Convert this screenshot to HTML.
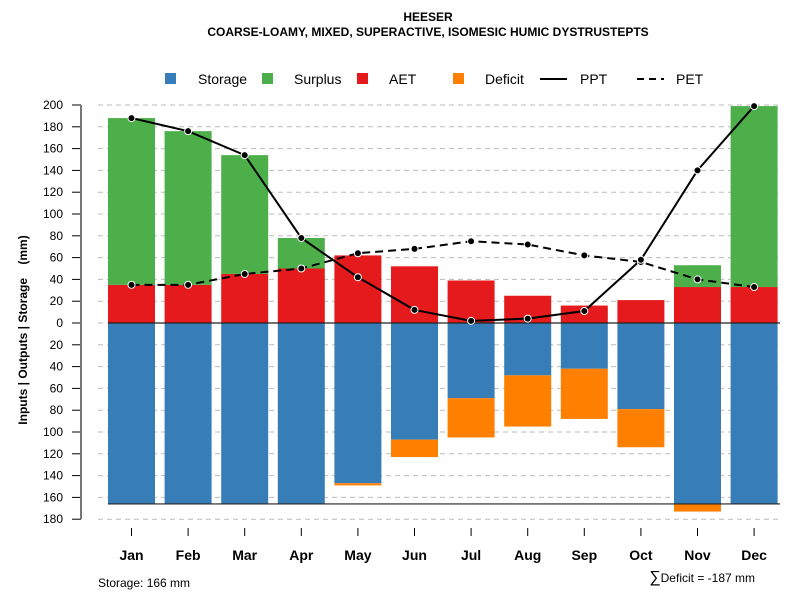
<!DOCTYPE html>
<html><head><meta charset="utf-8"><style>
body{margin:0;background:#fff;font-family:"Liberation Sans",sans-serif}
</style></head><body>
<svg id="c" width="800" height="600" xmlns="http://www.w3.org/2000/svg" font-family="Liberation Sans, sans-serif">
<text x="428" y="21" text-anchor="middle" font-size="12" font-weight="bold">HEESER</text>
<text x="428" y="36" text-anchor="middle" font-size="12" font-weight="bold">COARSE-LOAMY, MIXED, SUPERACTIVE, ISOMESIC HUMIC DYSTRUSTEPTS</text>
<g font-size="14">
<rect x="165" y="73" width="11" height="11" fill="#377EB8"/><text x="198" y="84">Storage</text>
<rect x="262" y="73" width="11" height="11" fill="#4DAF4A"/><text x="294" y="84">Surplus</text>
<rect x="357" y="73" width="11" height="11" fill="#E41A1C"/><text x="389" y="84">AET</text>
<rect x="453" y="73" width="11" height="11" fill="#FF7F00"/><text x="485" y="84">Deficit</text>
<line x1="540" y1="79" x2="567" y2="79" stroke="#000" stroke-width="2"/><text x="580" y="84">PPT</text>
<line x1="637" y1="79" x2="664" y2="79" stroke="#000" stroke-width="2" stroke-dasharray="7,5"/><text x="676" y="84">PET</text>
</g>
<text transform="translate(27,330) rotate(-90)" text-anchor="middle" font-size="12" font-weight="bold">Inputs | Outputs | Storage&#160;&#160;&#160;&#160;(mm)</text>
<text x="98" y="587" font-size="12">Storage: 166 mm</text>
<text x="755" y="582" text-anchor="end" font-size="12"><tspan font-size="16">∑</tspan>Deficit = -187 mm</text>
<g id="plot"></g>
</svg>
<script>
const months=["Jan","Feb","Mar","Apr","May","Jun","Jul","Aug","Sep","Oct","Nov","Dec"];
const ppt=[188,176,154,78,42,12,2,4,11,58,140,199];
const pet=[35,35,45,50,64,68,75,72,62,56,40,33];
const aet=[35,35,45,50,62,52,39,25,16,21,33,33];
const surplus=[153,141,109,28,0,0,0,0,0,0,20,166];
const storage=[166,166,166,166,147,107,69,48,42,79,166,166];
const deficit=[0,0,0,0,2,16,36,47,46,35,7,0];
const yTicks=[200,180,160,140,120,100,80,60,40,20,0,-20,-40,-60,-80,-100,-120,-140,-160,-180];
const NS="http://www.w3.org/2000/svg";
const g=document.getElementById('plot');
const y=v=>323-v*1.09;
const x=i=>131.5+i*56.6;
const bw=47;
function mk(t,a){const e=document.createElementNS(NS,t);for(const k in a)e.setAttribute(k,a[k]);g.appendChild(e);return e;}
yTicks.forEach(v=>{
 let gl=mk('line',{x1:98,x2:780,y1:y(v),y2:y(v),stroke:'#bbb','stroke-dasharray':'5,4'});
 
 
 let tk=mk('line',{x1:72,x2:81,y1:y(v),y2:y(v),stroke:'#000'});
 
 
 let t=mk('text',{x:63,y:y(v)+4,'text-anchor':'end','font-size':12});
 t.textContent=Math.abs(v);
 
 
});
let ax=mk('line',{x1:81,x2:81,y1:y(200),y2:y(-180),stroke:'#777','stroke-width':2});


months.forEach((m,i)=>{
 const cx=x(i),l=cx-bw/2;
 let s=mk('rect',{x:l,y:y(0),width:bw,height:storage[i]*1.09,fill:'#377EB8'});
 
 
 if(deficit[i]>0){let d=mk('rect',{x:l,y:y(-storage[i]),width:bw,height:deficit[i]*1.09,fill:'#FF7F00'});
 
 }
 let a=mk('rect',{x:l,y:y(aet[i]),width:bw,height:aet[i]*1.09,fill:'#E41A1C'});
 
 
 if(surplus[i]>0){let su=mk('rect',{x:l,y:y(aet[i]+surplus[i]),width:bw,height:surplus[i]*1.09,fill:'#4DAF4A'});
 
 }
 let xt=mk('line',{x1:cx,x2:cx,y1:528,y2:536,stroke:'#000'});
 
 
 let t=mk('text',{x:cx,y:560,'text-anchor':'middle','font-size':14,'font-weight':'bold'});
 t.textContent=m;
 
 
});
let z=mk('line',{x1:108,x2:780,y1:y(0),y2:y(0),stroke:'#222','stroke-width':1.2});


let sl=mk('line',{x1:108,x2:780,y1:y(-166),y2:y(-166),stroke:'#222','stroke-width':1.2});


let petL=mk('polyline',{points:pet.map((v,i)=>x(i)+','+y(v)).join(' '),fill:'none',stroke:'#000','stroke-width':2,'stroke-dasharray':'8,5'});


let pptL=mk('polyline',{points:ppt.map((v,i)=>x(i)+','+y(v)).join(' '),fill:'none',stroke:'#000','stroke-width':2});


pet.forEach((v,i)=>{let c=mk('circle',{cx:x(i),cy:y(v),r:3.5,fill:'#000',stroke:'#fff','stroke-width':1});

});
ppt.forEach((v,i)=>{let c=mk('circle',{cx:x(i),cy:y(v),r:3.5,fill:'#000',stroke:'#fff','stroke-width':1});

});
</script>
</body></html>
